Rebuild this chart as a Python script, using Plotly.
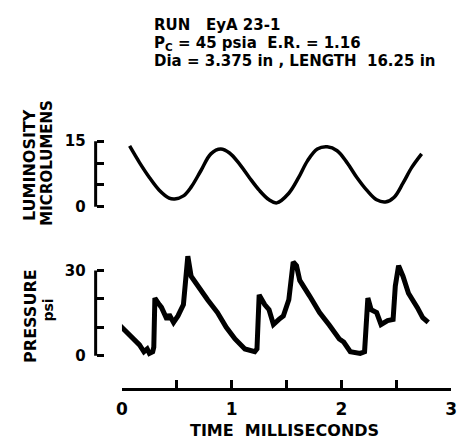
import plotly.graph_objects as go

W, H = 468, 444

# Luminosity trace (time in ms, microlumens)
lum_t = [0.07, 0.16, 0.25, 0.34, 0.43, 0.48, 0.56, 0.63, 0.72, 0.81, 0.90, 0.98,
         1.07, 1.16, 1.25, 1.34, 1.41, 1.52, 1.61, 1.69, 1.78, 1.87, 1.96, 2.05,
         2.14, 2.23, 2.32, 2.40, 2.48, 2.56, 2.64, 2.73]
lum_v = [13.9, 10.1, 6.7, 3.8, 2.0, 1.8, 2.5, 4.5, 8.3, 12.1, 13.2, 12.3,
         9.8, 6.7, 3.8, 1.6, 0.9, 3.1, 6.7, 10.5, 13.2, 13.7, 12.8, 10.1,
         6.7, 3.8, 1.6, 1.1, 2.2, 5.4, 9.0, 12.1]

# Pressure trace (time in ms, psi)
pr_t = [-0.02, 0.07, 0.16, 0.20, 0.23, 0.25, 0.28, 0.29, 0.30, 0.34, 0.36, 0.41,
        0.43, 0.47, 0.51, 0.56, 0.58, 0.60, 0.63, 0.69, 0.78, 0.87, 0.95, 1.03,
        1.12, 1.21, 1.23, 1.25, 1.30, 1.34, 1.38, 1.43, 1.47, 1.52, 1.54, 1.56,
        1.59, 1.62, 1.71, 1.80, 1.89, 1.98, 2.02, 2.08, 2.17, 2.21, 2.24, 2.27,
        2.32, 2.36, 2.42, 2.47, 2.49, 2.52, 2.56, 2.61, 2.69, 2.74, 2.79]
pr_v = [10.7, 7.2, 3.8, 1.4, 2.4, 0.8, 1.4, 3.0, 20.3, 18.0, 17.0, 12.8,
        14.5, 11.7, 14.0, 18.0, 28.0, 35.0, 28.0, 24.5, 19.7, 15.2, 10.0, 5.9,
        2.4, 1.4, 2.4, 21.4, 18.0, 16.2, 11.0, 12.8, 14.0, 19.7, 29.0, 33.0,
        31.7, 26.5, 21.0, 15.2, 10.7, 5.9, 4.8, 1.4, 0.8, 1.4, 20.3, 16.2,
        15.2, 11.0, 12.4, 12.8, 24.5, 31.7, 28.0, 22.0, 17.0, 13.4, 11.7]

x_ticks = [0, 1, 2, 3]
x_minor_step = 0.5
lum_ticks = [0, 15]
lum_minor_step = 5
pr_ticks = [0, 30]
pr_minor_step = 10

title_lines = ["RUN   EyA 23-1",
               "P<sub>C</sub> = 45 psia  E.R. = 1.16",
               "Dia = 3.375 in , LENGTH  16.25 in"]

FONT = "DejaVu Sans"

def px(x):
    return x / W

def py(y):
    return 1 - y / H

fig = go.Figure()
fig.add_trace(go.Scatter(x=lum_t, y=lum_v, mode="lines", xaxis="x", yaxis="y",
                         line=dict(color="black", width=3.5, shape="spline", smoothing=1.0),
                         showlegend=False))
fig.add_trace(go.Scatter(x=pr_t, y=pr_v, mode="lines", xaxis="x", yaxis="y2",
                         line=dict(color="black", width=5),
                         cliponaxis=False, showlegend=False))

axis_x = px(92)
bold = dict(family=FONT, weight="bold", color="black")

fig.update_layout(
    width=W, height=H,
    margin=dict(l=0, r=0, t=0, b=0),
    paper_bgcolor="white", plot_bgcolor="white",
    font=dict(family=FONT, color="black"),
    xaxis=dict(domain=[px(119), px(457)], range=[0, 3], anchor="free", position=py(393),
               showline=True, linewidth=3, linecolor="black", ticks="inside",
               ticklen=8, tickwidth=3, tickcolor="black", tickvals=x_ticks,
               minor=dict(dtick=x_minor_step, tick0=0, ticks="inside", ticklen=8,
                          tickwidth=3, tickcolor="black", showgrid=False),
               showgrid=False, zeroline=False, ticklabelstandoff=4,
               tickfont=dict(size=17, **bold)),
    yaxis=dict(domain=[py(211.47), py(135.53)], range=[-1, 16], anchor="free",
               position=axis_x, showline=False, ticks="inside", ticklen=7,
               tickwidth=3, tickcolor="black", tickvals=lum_ticks,
               minor=dict(dtick=lum_minor_step, tick0=0, ticks="inside", ticklen=7,
                          tickwidth=3, tickcolor="black", showgrid=False),
               showgrid=False, zeroline=False, ticklabelstandoff=10,
               tickfont=dict(size=15, **bold)),
    yaxis2=dict(domain=[py(364.8), py(251.7)], range=[-2, 37], anchor="free",
                position=axis_x, showline=False, ticks="inside", ticklen=7,
                tickwidth=3, tickcolor="black", tickvals=pr_ticks,
                minor=dict(dtick=pr_minor_step, tick0=0, ticks="inside", ticklen=7,
                           tickwidth=3, tickcolor="black", showgrid=False),
                showgrid=False, zeroline=False, ticklabelstandoff=10,
                tickfont=dict(size=15, **bold)),
)

fig.add_shape(type="line", xref="paper", yref="y", x0=axis_x, x1=axis_x, y0=0, y1=15,
              line=dict(color="black", width=3))
fig.add_shape(type="line", xref="paper", yref="y2", x0=axis_x, x1=axis_x, y0=0, y1=30,
              line=dict(color="black", width=3))

for txt, yc in zip(title_lines, [21, 40, 58]):
    fig.add_annotation(text=txt, x=px(150), y=py(yc), xref="paper", yref="paper",
                       xanchor="left", yanchor="middle", showarrow=False,
                       font=dict(size=15, **bold))

fig.add_annotation(text="TIME  MILLISECONDS", x=px(286), y=py(435), xref="paper", yref="paper",
                   xanchor="center", yanchor="middle", showarrow=False,
                   font=dict(size=16, **bold))

fig.add_annotation(text="LUMINOSITY", x=px(24), y=py(164), xref="paper", yref="paper",
                   xanchor="center", yanchor="middle", showarrow=False, textangle=-90,
                   font=dict(size=16, **bold))
fig.add_annotation(text="MICROLUMENS", x=px(42), y=py(162), xref="paper", yref="paper",
                   xanchor="center", yanchor="middle", showarrow=False, textangle=-90,
                   font=dict(size=15, **bold))
fig.add_annotation(text="PRESSURE", x=px(25), y=py(318), xref="paper", yref="paper",
                   xanchor="center", yanchor="middle", showarrow=False, textangle=-90,
                   font=dict(size=16, **bold))
fig.add_annotation(text="psi", x=px(43), y=py(312), xref="paper", yref="paper",
                   xanchor="center", yanchor="middle", showarrow=False, textangle=-90,
                   font=dict(size=14, **bold))

fig.write_html("out.html")
